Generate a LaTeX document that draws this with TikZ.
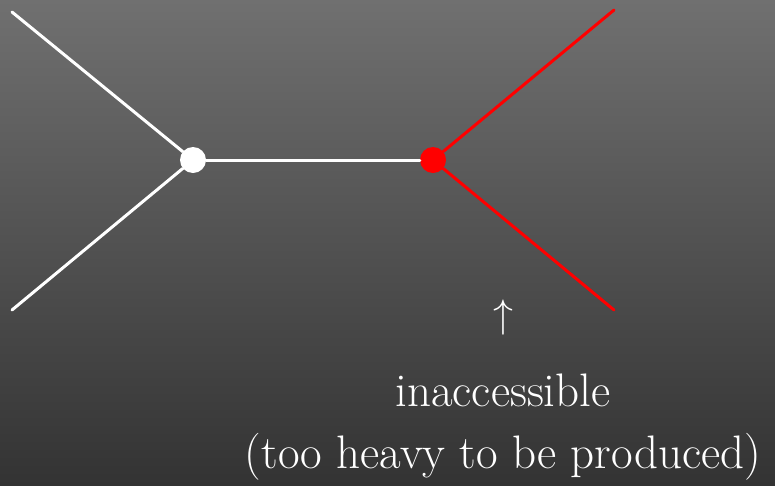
\documentclass[tikz,border=0pt]{standalone}
\usepackage{tikz}
\definecolor{BgTop}{HTML}{707070}
\definecolor{BgBottom}{HTML}{333333}
\definecolor{HeavyRed}{HTML}{FF0000}

\begin{document}
\begin{tikzpicture}[x=1pt,y=-1pt,line cap=round,
    leg/.style={line width=3pt},
    vertex/.style={circle,fill,inner sep=0pt,minimum size=26pt},
    caption/.style={text=white,font=\fontsize{47}{56}\selectfont}]
  \shade[top color=BgTop,bottom color=BgBottom] (0,0) rectangle (775,485);
  \useasboundingbox (0,0) rectangle (775,485);
  % vertices
  \node[vertex,white] (light) at (193,160) {};
  \node[vertex,HeavyRed] (heavy) at (433,160) {};
  \coordinate (inTop) at (12,12);
  \coordinate (inBot) at (12,310);
  \coordinate (outTop) at (614,10);
  \coordinate (outBot) at (614,310);
  % legs
  \draw[leg,white] (inTop) -- (light);
  \draw[leg,white] (inBot) -- (light);
  \draw[leg,white] (light) -- (heavy);
  \draw[leg,HeavyRed] (heavy) -- (outTop);
  \draw[leg,HeavyRed] (heavy) -- (outBot);
  % label
  \node[caption,scale=1.6] (arrow) at (503,318) {$\uparrow$};
  \node[caption] (word) at (503,390) {inaccessible};
  \node[caption] (note) at (503,457) {(too heavy to be produced)};
\end{tikzpicture}
\end{document}
